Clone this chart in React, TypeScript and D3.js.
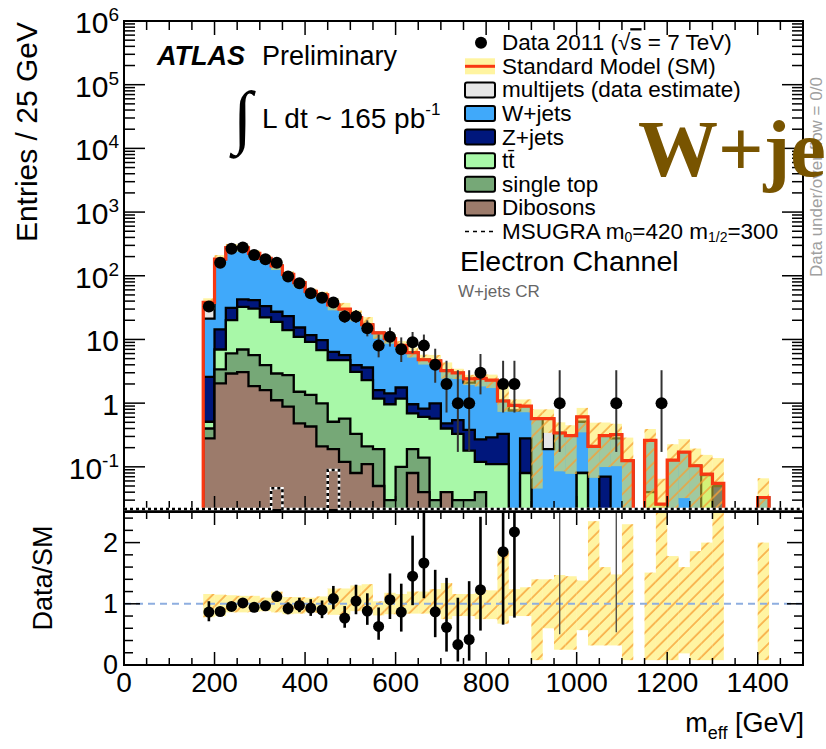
import React from 'react';
import * as d3 from 'd3';

// ---------- data (bins of 25 GeV starting at 175 GeV) ----------
const BIN_START = 175;
const BIN_WIDTH = 25;

const dataCounts = [33,160,265,278,211,182,160,97,76,53, 45,38,23,23,15,8,11,7,9,8, 4,2,1,1,3,0,2,2,0,0, 0,1,0,0,0,0,1,0,0,0, 1,0,0,0,0,0,0,0,0,0];
const multijets = [17,0,0,0,0,0,0,0,0,0, 0,0,0,0,0,0,0,0,0,0, 0,0,0,0.3,0,0,0,0.15,0,0, 0.38,0,0,0.1,0,0,0.04,0,0,0, 0,0,0,0,0,0,0,0,0,0];
const wjets = [18.6,168.6,245.6,231.5,182.6,154.7,115.8,82.1,62.6,45.3, 40.3,28.6,24.3,18.05,13.4,11.1,8.88,6.34,5.24,3.98, 3.61,2.77,2.45,1.72,2.17,2.01,0.75,0.77,0.62,0.57, 0.19,0.34,0.31,0.43,0.21,0.24,0.28,0.125,0,0.22, 0,0.127,0.17,0.104,0.003,0.005,0,0,0,0.033];
const zjets = [2.08,7.44,11.3,10.0,10.8,11.2,8.3,9.2,4.4,2.52, 2.95,1.67,0.94,0.85,1.33,0.42,0.46,0.58,0.27,0.21, 0.42,0.08,0.21,0.2,0.15,0.18,0.22,0,0.2,0, 0,0,0,0,0,0.07,0,0,0,0, 0,0,0,0,0,0.05,0,0,0,0];
const ttbar = [0.11,3.58,14.1,25.5,24.9,18.2,16.0,11.25,9.5,7.84, 5.81,4.22,4.16,2.77,2.09,0.99,0.93,1.08,0.5,0.47, 0.54,0.36,0.3,0.15,0.08,0.11,0.11,0,0.08,0, 0,0,0,0.08,0,0,0,0,0,0.04, 0.026,0,0,0,0.074,0,0,0,0,0];
const singleTop = [0.12,1.34,3.11,3.89,3.82,2.35,1.81,1.87,1.03,0.92, 0.78,0.32,0.45,0.25,0.1,0.14,0.03,0.1,0.11,0.1, 0.03,0,0.03,0.03,0.04,0,0,0,0,0, 0,0,0,0,0,0,0,0,0,0, 0,0,0,0,0,0,0,0,0,0];
const dibosons = [0.28,2.04,2.92,3.07,1.85,1.6,1.11,0.88,0.48,0.43, 0.21,0.19,0.12,0.08,0.11,0.05,0,0,0.08,0.04, 0,0.04,0,0,0,0,0,0,0,0, 0,0,0,0,0,0,0,0,0,0, 0,0,0,0,0,0,0,0,0,0];
const msugra = [0,0,0,0,0,0,0.046,0,0,0, 0,0.089,0,0,0,0,0,0,0,0, 0,0,0,0,0,0,0,0,0,0, 0,0,0,0,0,0,0,0,0,0, 0,0,0,0,0,0,0,0,0,0];
// relative SM uncertainty band (ratio panel), lower / upper edge
const bandLo = [0.78,0.80,0.86,0.86,0.87,0.88,0.86,0.83,0.84,0.86, 0.85,0.82,0.82,0.88,0.88,0.81,0.83,0.83,0.84,0.84, 0.83,0.75,0.80,0.80,0.75,0.75,0.675,0.80,0.80,0.08, 0.60,0.25,0.25,0.57,0.32,0.32,0.32,0.08,0,0.08, 0.08,0.08,0.19,0.08,0.08,0.08,0,0,0,0.08];
const bandHi = [1.16,1.15,1.14,1.13,1.13,1.10,1.20,1.11,1.11,1.10, 1.12,1.25,1.25,1.30,1.32,1.04,1.18,1.16,1.20,1.20, 1.24,1.34,1.16,1.16,1.18,1.22,1.86,1.24,1.27,1.40, 1.40,1.47,1.45,1.38,2.35,1.60,1.48,2.30,0,1.51, 2.5,1.78,1.60,1.86,2.0,2.5,0,0,0,2.0];

const xTickLabels = [0,200,400,600,800,1000,1200,1400];
const yMainTicks = [
  { v: 1e6, base: '10', exp: '6' },
  { v: 1e5, base: '10', exp: '5' },
  { v: 1e4, base: '10', exp: '4' },
  { v: 1e3, base: '10', exp: '3' },
  { v: 1e2, base: '10', exp: '2' },
  { v: 10, base: '10', exp: '' },
  { v: 1, base: '1', exp: '' },
  { v: 0.1, base: '10', exp: '-1' },
];
const ratioTickLabels = [0, 1, 2];

const COLORS = {
  multijets: '#e6e6e6',
  wjets: '#40a9fa',
  zjets: '#00177c',
  ttbar: '#a8f8a8',
  singleTop: '#76a877',
  dibosons: '#9c7b6b',
};
const SM_RED = '#f83812';
const FONT = "'Liberation Sans', Arial, Helvetica, sans-serif";

function garwoodLo(n: number) {
  if (n <= 0) return 0;
  return n * Math.pow(1 - 1 / (9 * n) - 1 / (3 * Math.sqrt(n)), 3);
}
function garwoodHi(n: number) {
  const m = n + 1;
  return m * Math.pow(1 - 1 / (9 * m) + 1 / (3 * Math.sqrt(m)), 3);
}

export default function App() {
  const W = 826, H = 749;
  const L = 124, R = 803, T = 21, B = 510, RT = 512, RB = 665;
  const yMin = 0.021;
  const x = d3.scaleLinear().domain([0, 1500]).range([L, R]);
  const y = d3.scaleLog().domain([yMin, 1e6]).range([B, T]);
  const yr = d3.scaleLinear().domain([0, 2.5]).range([RB, RT]);
  const nb = dataCounts.length;

  const keys = ['dibosons', 'singleTop', 'ttbar', 'zjets', 'wjets', 'multijets'];
  const rows = d3.range(nb).map((i) => ({
    dibosons: dibosons[i], singleTop: singleTop[i], ttbar: ttbar[i],
    zjets: zjets[i], wjets: wjets[i], multijets: multijets[i],
  }));
  const stacked = d3.stack<any>().keys(keys)(rows);
  const total = stacked[stacked.length - 1].map((d) => d[1]);

  const edge = (i: number) => x(BIN_START + i * BIN_WIDTH);
  const FLOOR = B + 12;
  const yv = (v: number) => (v > yMin * 1.001 ? y(v) : FLOOR);

  const stepPath = (vals: number[], floor = FLOOR) => {
    let p = `M${edge(0)},${floor}`;
    vals.forEach((v, i) => {
      const yy = v > yMin * 1.001 ? y(v) : floor;
      p += `L${edge(i)},${yy}L${edge(i + 1)},${yy}`;
    });
    p += `L${edge(vals.length)},${floor}`;
    return p;
  };

  // signal path (full axis width along the bottom)
  const sigFloor = B - 1;
  let sigPath = `M${x(0)},${sigFloor}`;
  msugra.forEach((v, i) => {
    const yy = v > yMin ? y(v) : sigFloor;
    sigPath += `L${edge(i)},${yy}L${edge(i + 1)},${yy}`;
  });
  sigPath += `L${x(1500)},${sigFloor}`;

  const xMinor = d3.range(0, 1501, 50);
  const yMinorMain: number[] = [];
  for (let d = -2; d < 6; d++) {
    for (let k = 1; k < 10; k++) {
      const v = k * Math.pow(10, d);
      if (v >= yMin && v <= 1e6) yMinorMain.push(v);
    }
  }
  yMinorMain.push(1e6);
  const ratioMinor = d3.range(0, 2.51, 0.2);

  const layerOrder = [...stacked].reverse();

  const legendY = (i: number) => 42.7 + i * 23.6;
  const boxEntries = [
    { key: 'multijets', label: 'multijets (data estimate)' },
    { key: 'wjets', label: 'W+jets' },
    { key: 'zjets', label: 'Z+jets' },
    { key: 'ttbar', label: 'tt\u0304' },
    { key: 'singleTop', label: 'single top' },
    { key: 'dibosons', label: 'Dibosons' },
  ];

  const BandRect = ({ x0, x1, y0, y1 }: any) => (
    <g>
      <rect x={x0} width={x1 - x0} y={y0} height={Math.max(0, y1 - y0)} fill="#ffea45" fillOpacity={0.5} />
      <rect x={x0} width={x1 - x0} y={y0} height={Math.max(0, y1 - y0)} fill="url(#hatch)" />
    </g>
  );

  return (
    <svg width={W} height={H} style={{ position: 'absolute', left: 0, top: 0, background: '#fff' }} fontFamily={FONT}>
      <defs>
        <clipPath id="mainClip"><rect x={L} y={T} width={R - L} height={B - T} /></clipPath>
        <clipPath id="ratioClip"><rect x={L} y={RT} width={R - L} height={RB - RT} /></clipPath>
        <pattern id="hatch" width="9.5" height="9.5" patternUnits="userSpaceOnUse" patternTransform="rotate(45)">
          <line x1="1" y1="0" x2="1" y2="9.5" stroke="#f7a035" strokeWidth="1.4" />
        </pattern>
      </defs>

      {/* ---------- main panel ---------- */}
      <g clipPath="url(#mainClip)">
        {layerOrder.map((s: any) => (
          <path key={s.key} d={stepPath(s.map((d: any) => d[1])) + 'Z'}
            fill={(COLORS as any)[s.key]} stroke="#000" strokeWidth={2.3} />
        ))}
        {total.map((t, i) => t > 0 && bandHi[i] > 0 ? (
          <BandRect key={'b' + i} x0={edge(i)} x1={edge(i + 1)}
            y0={y(Math.max(t * bandHi[i], yMin))} y1={yv(Math.max(t * bandLo[i], yMin * 0.5))} />
        ) : null)}
        <path d={stepPath(total)} fill="none" stroke={SM_RED} strokeWidth={3.2} />
        {dataCounts.map((n, i) => n > 0 ? (
          <line key={'e' + i} x1={x(BIN_START + (i + 0.5) * BIN_WIDTH)} x2={x(BIN_START + (i + 0.5) * BIN_WIDTH)}
            y1={yv(garwoodLo(n))} y2={y(garwoodHi(n))} stroke="#333" strokeWidth={2} />
        ) : null)}
        {dataCounts.map((n, i) => n > 0 ? (
          <circle key={'d' + i} cx={x(BIN_START + (i + 0.5) * BIN_WIDTH)} cy={y(n)} r={6} fill="#000" />
        ) : null)}
      </g>

      {/* main frame + ticks */}
      <rect x={L} y={T} width={R - L} height={B - T} fill="none" stroke="#000" strokeWidth={2} />
      {xMinor.map((v) => {
        const len = v % 200 === 0 ? 14 : 9;
        return (
          <g key={'mx' + v}>
            <line x1={x(v)} x2={x(v)} y1={B} y2={B - len} stroke="#000" strokeWidth={1.5} />
            <line x1={x(v)} x2={x(v)} y1={T} y2={T + len} stroke="#000" strokeWidth={1.5} />
          </g>
        );
      })}
      {yMinorMain.map((v) => {
        const major = Math.abs(Math.log10(v) - Math.round(Math.log10(v))) < 1e-9;
        const len = major ? 21 : 11;
        return (
          <g key={'my' + v}>
            <line x1={L} x2={L + len} y1={y(v)} y2={y(v)} stroke="#000" strokeWidth={1.5} />
            <line x1={R} x2={R - len} y1={y(v)} y2={y(v)} stroke="#000" strokeWidth={1.5} />
          </g>
        );
      })}
      {yMainTicks.map((t) => (
        <text key={'yl' + t.v} x={119} y={y(t.v) + 12} textAnchor="end" fontSize={30} fill="#000">
          {t.base}
          {t.exp ? <tspan fontSize={19} dy={-12}>{t.exp}</tspan> : null}
        </text>
      ))}
      <text transform="translate(37,22) rotate(-90)" textAnchor="end" fontSize={30}>Entries / 25 GeV</text>

      {/* signal dashed histogram */}
      <path d={sigPath} fill="none" stroke="#fff" strokeWidth={2.6} />
      <path d={sigPath} fill="none" stroke="#000" strokeWidth={2.6} strokeDasharray="3 3" />

      {/* ---------- ratio panel ---------- */}
      <g clipPath="url(#ratioClip)">
        {total.map((t, i) => t > 0 && bandHi[i] > 0 ? (
          <BandRect key={'rb' + i} x0={edge(i)} x1={edge(i + 1)}
            y0={yr(Math.min(bandHi[i], 2.6))} y1={yr(bandLo[i])} />
        ) : null)}
        <line x1={L} x2={R} y1={yr(1)} y2={yr(1)} stroke="#8eaee0" strokeWidth={2} strokeDasharray="7 5" />
        {dataCounts.map((n, i) => {
          const t = total[i];
          if (!(n > 0 && t > 0)) return null;
          const cx = x(BIN_START + (i + 0.5) * BIN_WIDTH);
          const r = n / t;
          const lo = garwoodLo(n) / t, hi = garwoodHi(n) / t;
          if (r <= 2.5) {
            return (
              <g key={'rp' + i}>
                <line x1={cx} x2={cx} y1={yr(lo)} y2={yr(Math.min(hi, 3))} stroke="#000" strokeWidth={2.6} />
                <circle cx={cx} cy={yr(r)} r={5.5} fill="#000" />
              </g>
            );
          }
          return <line key={'rp' + i} x1={cx} x2={cx} y1={yr(lo)} y2={yr(3)} stroke="#444" strokeWidth={1.3} />;
        })}
      </g>
      <rect x={L} y={RT} width={R - L} height={RB - RT} fill="none" stroke="#000" strokeWidth={2} />
      {xMinor.map((v) => {
        const len = v % 200 === 0 ? 13 : 7;
        return (
          <g key={'rx' + v}>
            <line x1={x(v)} x2={x(v)} y1={RB} y2={RB - len} stroke="#000" strokeWidth={1.5} />
            <line x1={x(v)} x2={x(v)} y1={RT} y2={RT + len} stroke="#000" strokeWidth={1.5} />
          </g>
        );
      })}
      {ratioMinor.map((v) => {
        const major = Math.abs(v - Math.round(v)) < 1e-6;
        const len = major ? 16 : 9;
        return (
          <g key={'ry' + v}>
            <line x1={L} x2={L + len} y1={yr(v)} y2={yr(v)} stroke="#000" strokeWidth={1.5} />
            <line x1={R} x2={R - len} y1={yr(v)} y2={yr(v)} stroke="#000" strokeWidth={1.5} />
          </g>
        );
      })}
      {ratioTickLabels.map((v) => (
        <text key={'rl' + v} x={118} y={yr(v) + 9} textAnchor="end" fontSize={27}>{v}</text>
      ))}
      <text transform="translate(52,578) rotate(-90)" textAnchor="middle" fontSize={27}>Data/SM</text>
      {xTickLabels.map((v) => (
        <text key={'xl' + v} x={x(v)} y={692} textAnchor="middle" fontSize={28}>{v}</text>
      ))}
      <text x={804} y={732} textAnchor="end" fontSize={27}>
        m<tspan fontSize={18} dy={7}>eff</tspan><tspan dy={-7}> [GeV]</tspan>
      </text>

      {/* ---------- annotations ---------- */}
      <text x={157} y={65} fontSize={27} fontWeight="bold" fontStyle="italic">ATLAS</text>
      <text x={262} y={65} fontSize={27}>Preliminary</text>
      <text x={233} y={140} fontSize={70} fontFamily="'Liberation Serif', serif">∫</text>
      <text x={262} y={128} fontSize={28}>L dt ~ 165 pb<tspan fontSize={17} dy={-13}>-1</tspan></text>

      <text transform="translate(822,277) rotate(-90)" fontSize={17} fill="#a0a0a0">Data under/over flow = 0/0</text>
      <text x={638} y={176} fontSize={80} fontWeight="bold" fontFamily="'Liberation Serif', 'Times New Roman', serif" fill="#785400">W+jets</text>

      {/* legend */}
      <circle cx={481} cy={legendY(0)} r={6} fill="#000" />
      <text x={502} y={legendY(0) + 7.5} fontSize={22.5}>Data 2011 (<tspan>√</tspan><tspan style={{ textDecoration: 'overline' }}>s</tspan> = 7 TeV)</text>
      <rect x={465} y={legendY(1) - 8} width={30} height={16} fill="#fff4a0" />
      <line x1={465} x2={495} y1={legendY(1)} y2={legendY(1)} stroke={SM_RED} strokeWidth={3} />
      <text x={502} y={legendY(1) + 7.5} fontSize={22.5}>Standard Model (SM)</text>
      {boxEntries.map((e, j) => (
        <g key={e.key}>
          <rect x={465} y={legendY(j + 2) - 7.5} width={30} height={15} rx={2} fill={(COLORS as any)[e.key]} stroke="#000" strokeWidth={2} />
          <text x={502} y={legendY(j + 2) + 7.5} fontSize={22.5}>{e.label}</text>
        </g>
      ))}
      <line x1={465} x2={495} y1={legendY(8)} y2={legendY(8)} stroke="#000" strokeWidth={1.6} strokeDasharray="4 4" />
      <text x={502} y={legendY(8) + 7} fontSize={22.5}>
        MSUGRA m<tspan fontSize={14} dy={3.5}>0</tspan><tspan dy={-3.5}>=420 m</tspan><tspan fontSize={14} dy={3.5}>1/2</tspan><tspan dy={-3.5}>=300</tspan>
      </text>
      <text x={460} y={271} fontSize={28.5}>Electron Channel</text>
      <text x={458} y={297} fontSize={17} fill="#666">W+jets CR</text>
    </svg>
  );
}
